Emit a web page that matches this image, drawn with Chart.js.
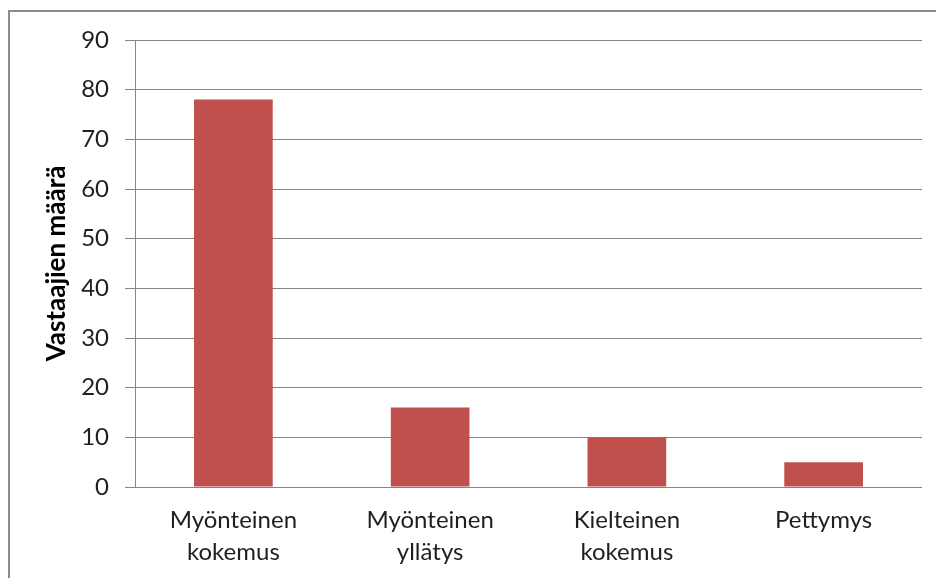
<!DOCTYPE html>
<html>
<head>
<meta charset="utf-8">
<script src="https://cdn.jsdelivr.net/npm/chart.js@4"></script>
<style>
  html, body { margin: 0; padding: 0; background: #ffffff; overflow: hidden; }
  #wrap { position: relative; width: 936px; height: 578px; }
  #frame {
    position: absolute; left: 8px; top: 10px; width: 1000px; height: 1000px;
    border: 2px solid #8c8c8c; box-sizing: border-box;
  }
  canvas { position: absolute; left: 0; top: 0; }
</style>
</head>
<body>
<div id="wrap">
  <div id="frame"></div>
  <canvas id="c" width="936" height="578"></canvas>
</div>
<script>
// Responses per category
const categories = [
  ['Myönteinen', 'kokemus'],
  ['Myönteinen', 'yllätys'],
  ['Kielteinen', 'kokemus'],
  ['Pettymys']
];
const counts = [78, 16, 10, 5];
const yTicks = [0, 10, 20, 30, 40, 50, 60, 70, 80, 90];
const yTitle = 'Vastaajien määrä';

const FONT = 'Lato, "Open Sans", sans-serif';
const GRID = '#868686';

new Chart(document.getElementById('c'), {
  type: 'bar',
  data: {
    labels: categories,
    datasets: [{
      data: counts,
      backgroundColor: '#C0504D',
      borderWidth: 0,
      categoryPercentage: 0.4,
      barPercentage: 1.0
    }]
  },
  options: {
    responsive: false,
    animation: false,
    events: [],
    layout: { padding: { left: 38, right: 14, top: 40, bottom: 4 } },
    plugins: { legend: { display: false }, tooltip: { enabled: false } },
    scales: {
      x: {
        grid: { display: false, drawTicks: false },
        border: { display: false },
        ticks: {
          color: '#1f1f1f',
          font: { family: FONT, size: 24, lineHeight: 1.3 },
          padding: 18,
          maxRotation: 0
        },
        afterFit(scale) { scale.height = 578 - 487 - 4; }
      },
      y: {
        min: 0,
        max: 90,
        afterBuildTicks(scale) { scale.ticks = yTicks.map(v => ({ value: v })); },
        grid: { color: GRID, lineWidth: 1, tickLength: 10, drawTicks: true },
        border: { display: true, color: GRID, width: 1 },
        ticks: {
          color: '#1f1f1f',
          font: { family: FONT, size: 24 },
          padding: 16
        },
        title: {
          display: true,
          text: yTitle,
          color: '#000000',
          font: { family: FONT, size: 26, weight: 'bold' },
          padding: { top: 3, bottom: 0 }
        },
        afterFit(scale) { scale.width = 135 - 38; }
      }
    }
  }
});
</script>
</body>
</html>
